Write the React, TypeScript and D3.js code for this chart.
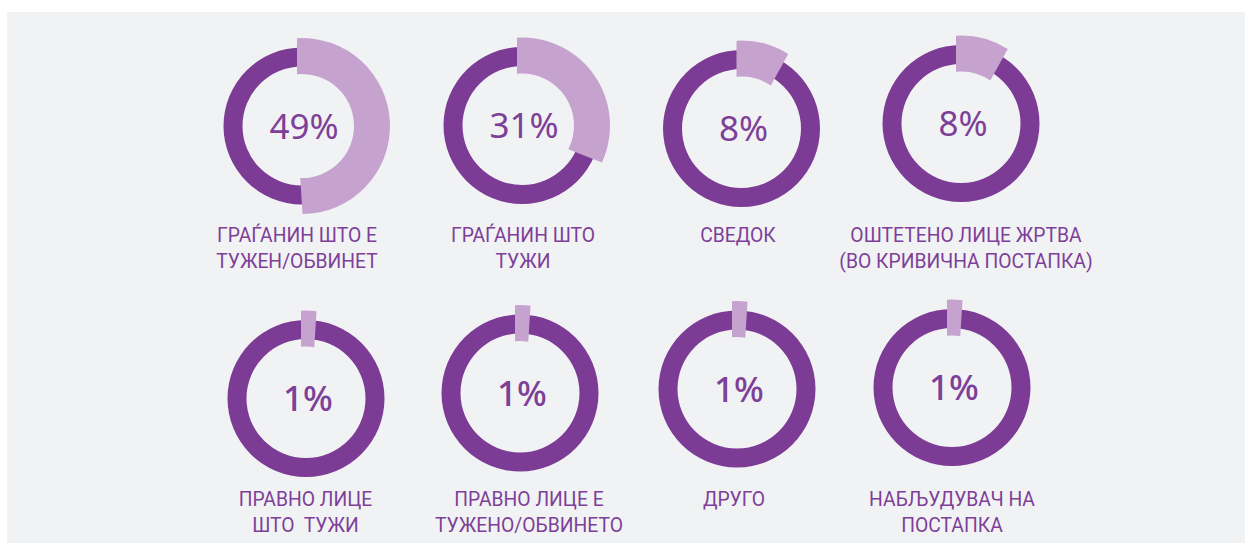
import React from "react";
import * as d3 from "d3";

// ---- data ----
const values = [49, 31, 8, 8, 1, 1, 1, 1];
const labelLines = [
  ["ГРАЃАНИН ШТО Е", "ТУЖЕН/ОБВИНЕТ"],
  ["ГРАЃАНИН ШТО", "ТУЖИ"],
  ["СВЕДОК"],
  ["ОШТЕТЕНО ЛИЦЕ ЖРТВА", "(ВО КРИВИЧНА ПОСТАПКА)"],
  ["ПРАВНО ЛИЦЕ", "ШТО  ТУЖИ"],
  ["ПРАВНО ЛИЦЕ Е", "ТУЖЕНО/ОБВИНЕТО"],
  ["ДРУГО"],
  ["НАБЉУДУВАЧ НА", "ПОСТАПКА"],
];

// ---- layout (positions only) ----
const layout = [
  { cx: 302, cy: 126, lx: 297, ly: 242, row: 0 },
  { cx: 522, cy: 125.5, lx: 523, ly: 242, row: 0 },
  { cx: 741.5, cy: 128.5, lx: 738, ly: 242, row: 0 },
  { cx: 961, cy: 123.5, lx: 966, ly: 242, row: 0 },
  { cx: 306, cy: 398.5, lx: 305.5, ly: 506, row: 1 },
  { cx: 520, cy: 393, lx: 529, ly: 506, row: 1 },
  { cx: 737, cy: 389, lx: 734, ly: 506, row: 1 },
  { cx: 952, cy: 387.5, lx: 952, ly: 506, row: 1 },
];

const W = 1245;
const H = 543;
const DARK = "#7c3c95";
const LIGHT = "#c5a3ce";
const TEXT = "#7d3f98";
const BG = "#f1f2f4";
const PADPX = 5; // linear widening of the highlighted segment on each side
const R_RING_IN = 59.5;
const R_RING_OUT = 78.5;
const R_SEG_IN = 52;
const R_SEG_OUT = 88;

const angle = d3.scaleLinear().domain([0, 100]).range([0, 2 * Math.PI]);
const ringArc = d3
  .arc<any>()
  .innerRadius(R_RING_IN)
  .outerRadius(R_RING_OUT)
  .startAngle(0)
  .endAngle(2 * Math.PI);

// segment with parallel (linearly offset) edges
function segPath(v: number): string {
  const a0 = 0;
  const a1 = angle(v);
  const dOut = Math.asin(PADPX / R_SEG_OUT);
  const dIn = Math.asin(PADPX / R_SEG_IN);
  const toCanvas = (a: number) => a - Math.PI / 2;
  const p = d3.path();
  const s0 = toCanvas(a0 - dIn);
  p.moveTo(R_SEG_IN * Math.cos(s0), R_SEG_IN * Math.sin(s0));
  p.arc(0, 0, R_SEG_OUT, toCanvas(a0 - dOut), toCanvas(a1 + dOut), false);
  p.arc(0, 0, R_SEG_IN, toCanvas(a1 + dIn), toCanvas(a0 - dIn), true);
  p.closePath();
  return p.toString();
}

export default function App() {
  return (
    <div style={{ position: "fixed", left: 0, top: 0 }}>
      <svg width={W} height={H} style={{ display: "block" }}>
        <rect x={0} y={0} width={W} height={H} fill="#ffffff" />
        <rect x={7} y={12} width={W - 7} height={H - 12} fill={BG} />
        {values.map((v, i) => {
          const L = layout[i];
          return (
            <g key={i}>
              <g transform={`translate(${L.cx},${L.cy})`}>
                <path d={ringArc({} as any) || ""} fill={DARK} />
                <path d={segPath(v)} fill={LIGHT} />
                <text
                  x={2}
                  y={12.5}
                  textAnchor="middle"
                  fill={TEXT}
                  fontFamily="'Noto Sans', sans-serif"
                  fontSize={35}
                  fontWeight={L.row === 1 ? 500 : 400}
                >
                  {v}%
                </text>
              </g>
              <g transform={`translate(${L.lx},0) scale(0.92,1)`}>
                <text
                  textAnchor="middle"
                  fill={TEXT}
                  fontFamily="Roboto, sans-serif"
                  fontSize={21}
                  style={{ whiteSpace: "pre" }}
                >
                  {labelLines[i].map((line, j) => (
                    <tspan key={j} x={0} y={L.ly + j * 26.3}>
                      {line}
                    </tspan>
                  ))}
                </text>
              </g>
            </g>
          );
        })}
      </svg>
    </div>
  );
}
